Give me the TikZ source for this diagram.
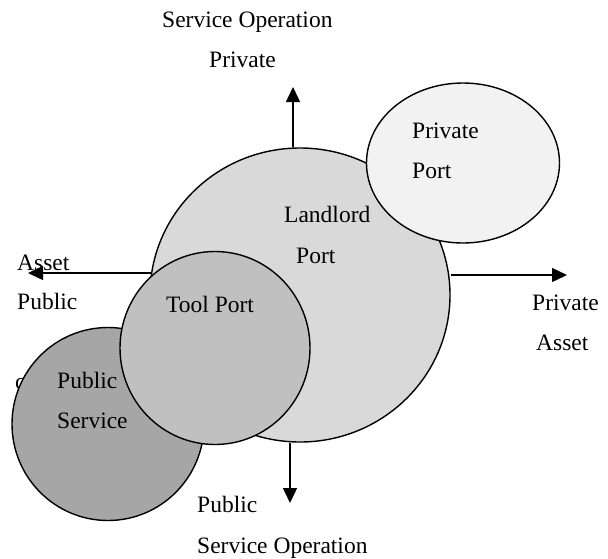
\documentclass[tikz,border=0pt]{standalone}
\usepackage{fontspec}
\setmainfont{Liberation Serif}
\usetikzlibrary{arrows.meta,shapes.geometric}
\definecolor{landlordfill}{HTML}{D9D9D9}
\definecolor{privatefill}{HTML}{F2F2F2}
\definecolor{toolfill}{HTML}{C0C0C0}
\definecolor{publicfill}{HTML}{A6A6A6}
\tikzset{
  region/.style={ellipse,draw=black,line width=1.4pt,inner sep=0pt},
  lbl/.style={anchor=base west,inner sep=0pt,font=\fontsize{23.5}{28}\selectfont},
  axis/.style={line width=1.4pt,-{Triangle[length=15pt,width=14pt]}}
}
\begin{document}
\begin{tikzpicture}[x=1pt,y=-1pt]
\useasboundingbox (0,0) rectangle (608,558);
% hidden letter behind public service
\node[lbl] (cc) at (15,389) {c};
% regions
\node[region,fill=landlordfill,minimum width=300pt,minimum height=294pt] (landlord) at (300,295) {};
\node[region,fill=privatefill,minimum width=193pt,minimum height=160pt] (private) at (463,163) {};
\node[region,fill=publicfill,minimum width=192pt,minimum height=193pt] (public) at (108,424) {};
\node[region,fill=toolfill,minimum width=190pt,minimum height=193pt] (tool) at (215,348) {};
% arrow ends
\coordinate (upTip) at (293,87);
\coordinate (leftTip) at (28,273);
\coordinate (rightTip) at (567,275);
\coordinate (downTip) at (290,503);
\draw[axis] (upTip |- landlord.north) -- (upTip);
\draw[axis] (landlord.west |- leftTip) ++(2,0) -- (leftTip);
\draw[axis] (landlord.east |- rightTip) -- (rightTip);
\draw[axis] (downTip |- landlord.south) -- (downTip);
% labels
\node[lbl] (topA) at (162,27) {Service Operation};
\node[lbl] (topB) at (209,67) {Private};
\node[lbl] (ppA) at (412,138) {Private};
\node[lbl] (ppB) at (412,178) {Port};
\node[lbl] (llA) at (284,222) {Landlord};
\node[lbl] (llB) at (296,263) {Port};
\node[lbl] (leftA) at (17,270) {Asset};
\node[lbl] (leftB) at (17,309) {Public};
\node[lbl] (toolT) at (166,312) {Tool Port};
\node[lbl] (psA) at (57,388) {Public};
\node[lbl] (psB) at (57,428) {Service};
\node[lbl] (rightA) at (532,310) {Private};
\node[lbl] (rightB) at (536,350) {Asset};
\node[lbl] (botA) at (197,512) {Public};
\node[lbl] (botB) at (197,553) {Service Operation};
\end{tikzpicture}
\end{document}
